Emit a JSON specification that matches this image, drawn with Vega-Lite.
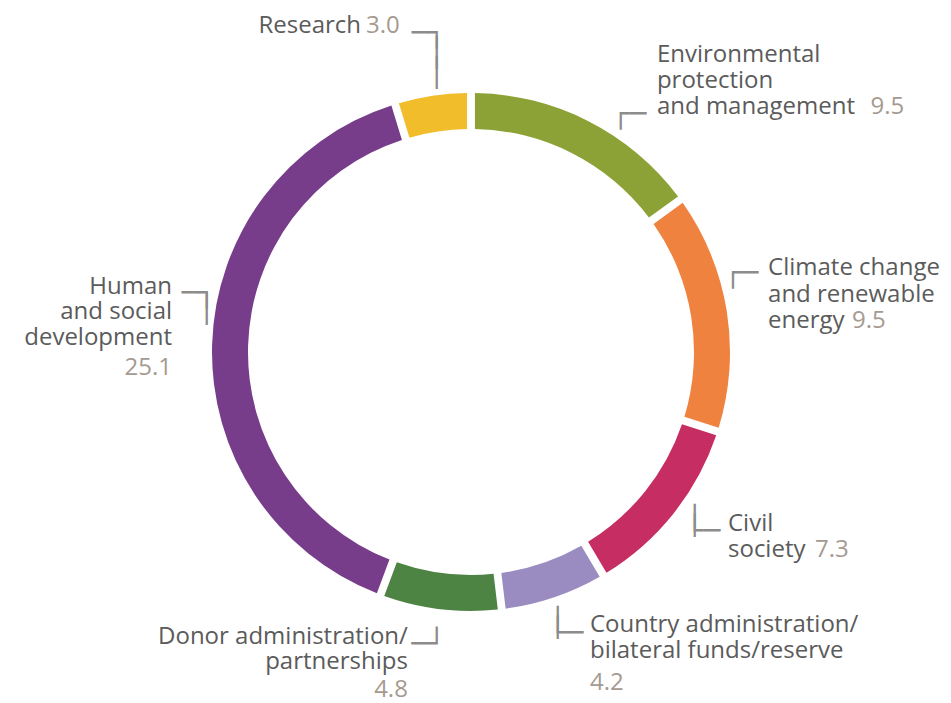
{
  "$schema": "https://vega.github.io/schema/vega-lite/v6.json",
  "width": 942,
  "height": 702,
  "autosize": {"type": "none"},
  "padding": {"left": 0, "top": 1, "right": 9, "bottom": 0},
  "background": "white",
  "view": {"stroke": null},
  "data": {
    "values": [
      {"idx": 1, "category": "Environmental protection and management", "value": 9.5, "label": "Environmental\nprotection\nand management"},
      {"idx": 2, "category": "Climate change and renewable energy", "value": 9.5, "label": "Climate change\nand renewable\nenergy"},
      {"idx": 3, "category": "Civil society", "value": 7.3, "label": "Civil\nsociety"},
      {"idx": 4, "category": "Country administration/bilateral funds/reserve", "value": 4.2, "label": "Country administration/\nbilateral funds/reserve"},
      {"idx": 5, "category": "Donor administration/partnerships", "value": 4.8, "label": "Donor administration/\npartnerships"},
      {"idx": 6, "category": "Human and social development", "value": 25.1, "label": "Human\nand social\ndevelopment"},
      {"idx": 7, "category": "Research", "value": 3.0, "label": "Research"}
    ]
  },
  "encoding": {
    "theta": {"field": "value", "type": "quantitative", "stack": true},
    "order": {"field": "idx", "type": "quantitative"},
    "detail": {"field": "category", "type": "nominal"}
  },
  "layer": [
    {
      "mark": {"type": "arc", "outerRadius": 259, "innerRadius": 223, "padAngle": 0.023},
      "encoding": {
        "color": {
          "field": "category", "type": "nominal", "legend": null,
          "scale": {
            "domain": ["Environmental protection and management", "Climate change and renewable energy", "Civil society", "Country administration/bilateral funds/reserve", "Donor administration/partnerships", "Human and social development", "Research"],
            "range": ["#8DA236", "#F08240", "#C62D62", "#9A8CC0", "#4E8443", "#773D8A", "#F2BD2A"]
          }
        }
      }
    },

    {"mark": {"type": "text", "radius": 290, "align": "left", "baseline": "alphabetic", "dx": 54.4, "dy": -31.6, "font": "Open Sans", "fontSize": 24, "lineHeight": 26, "lineBreak": "\n", "color": "#5b5b5b"},
     "encoding": {"text": {"condition": {"test": "datum.idx === 1", "field": "label", "type": "nominal"}, "value": ""}}},
    {"mark": {"type": "text", "radius": 290, "align": "left", "baseline": "alphabetic", "dx": 10.7, "dy": -31, "font": "Open Sans", "fontSize": 24, "lineHeight": 26.5, "lineBreak": "\n", "color": "#5b5b5b"},
     "encoding": {"text": {"condition": {"test": "datum.idx === 2", "field": "label", "type": "nominal"}, "value": ""}}},
    {"mark": {"type": "text", "radius": 290, "align": "left", "baseline": "alphabetic", "dx": 30.4, "dy": -1.9, "font": "Open Sans", "fontSize": 24, "lineHeight": 26, "lineBreak": "\n", "color": "#5b5b5b"},
     "encoding": {"text": {"condition": {"test": "datum.idx === 3", "field": "label", "type": "nominal"}, "value": ""}}},
    {"mark": {"type": "text", "radius": 290, "align": "left", "baseline": "alphabetic", "dx": 25.8, "dy": 5.4, "font": "Open Sans", "fontSize": 24, "lineHeight": 26, "lineBreak": "\n", "color": "#5b5b5b"},
     "encoding": {"text": {"condition": {"test": "datum.idx === 4", "field": "label", "type": "nominal"}, "value": ""}}},
    {"mark": {"type": "text", "radius": 290, "align": "right", "baseline": "alphabetic", "dx": -28.7, "dy": 4, "font": "Open Sans", "fontSize": 24, "lineHeight": 25, "lineBreak": "\n", "color": "#5b5b5b"},
     "encoding": {"text": {"condition": {"test": "datum.idx === 5", "field": "label", "type": "nominal"}, "value": ""}}},
    {"mark": {"type": "text", "radius": 290, "align": "right", "baseline": "alphabetic", "dx": -9.1, "dy": -49.4, "font": "Open Sans", "fontSize": 24, "lineHeight": 25.5, "lineBreak": "\n", "color": "#5b5b5b"},
     "encoding": {"text": {"condition": {"test": "datum.idx === 6", "field": "label", "type": "nominal"}, "value": ""}}},
    {"mark": {"type": "text", "radius": 290, "align": "right", "baseline": "alphabetic", "dx": -67, "dy": -32, "font": "Open Sans", "fontSize": 24, "lineHeight": 26, "lineBreak": "\n", "color": "#5b5b5b"},
     "encoding": {"text": {"condition": {"test": "datum.idx === 7", "field": "label", "type": "nominal"}, "value": ""}}},

    {"mark": {"type": "text", "radius": 290, "align": "left", "baseline": "alphabetic", "dx": 268, "dy": 20.4, "font": "Open Sans", "fontSize": 24, "color": "#a69a90"},
     "encoding": {"text": {"condition": {"test": "datum.idx === 1", "field": "value", "type": "quantitative", "format": ".1f"}, "value": ""}}},
    {"mark": {"type": "text", "radius": 290, "align": "left", "baseline": "alphabetic", "dx": 94.7, "dy": 22, "font": "Open Sans", "fontSize": 24, "color": "#a69a90"},
     "encoding": {"text": {"condition": {"test": "datum.idx === 2", "field": "value", "type": "quantitative", "format": ".1f"}, "value": ""}}},
    {"mark": {"type": "text", "radius": 290, "align": "left", "baseline": "alphabetic", "dx": 117.4, "dy": 24.1, "font": "Open Sans", "fontSize": 24, "color": "#a69a90"},
     "encoding": {"text": {"condition": {"test": "datum.idx === 3", "field": "value", "type": "quantitative", "format": ".1f"}, "value": ""}}},
    {"mark": {"type": "text", "radius": 290, "align": "left", "baseline": "alphabetic", "dx": 25.8, "dy": 63.4, "font": "Open Sans", "fontSize": 24, "color": "#a69a90"},
     "encoding": {"text": {"condition": {"test": "datum.idx === 4", "field": "value", "type": "quantitative", "format": ".1f"}, "value": ""}}},
    {"mark": {"type": "text", "radius": 290, "align": "right", "baseline": "alphabetic", "dx": -28.7, "dy": 57, "font": "Open Sans", "fontSize": 24, "color": "#a69a90"},
     "encoding": {"text": {"condition": {"test": "datum.idx === 5", "field": "value", "type": "quantitative", "format": ".1f"}, "value": ""}}},
    {"mark": {"type": "text", "radius": 290, "align": "right", "baseline": "alphabetic", "dx": -9.1, "dy": 31.6, "font": "Open Sans", "fontSize": 24, "color": "#a69a90"},
     "encoding": {"text": {"condition": {"test": "datum.idx === 6", "field": "value", "type": "quantitative", "format": ".1f"}, "value": ""}}},
    {"mark": {"type": "text", "radius": 290, "align": "left", "baseline": "alphabetic", "dx": -62, "dy": -32, "font": "Open Sans", "fontSize": 24, "color": "#a69a90"},
     "encoding": {"text": {"condition": {"test": "datum.idx === 7", "field": "value", "type": "quantitative", "format": ".1f"}, "value": ""}}},

    {"mark": {"type": "text", "radius": 290, "align": "left", "baseline": "alphabetic", "dx": 10, "dy": 29.1, "font": "DejaVu Sans", "fontSize": 28, "lineHeight": 20, "lineBreak": "\n", "color": "#8c8c8c"},
     "encoding": {"text": {"condition": {"test": "datum.idx === 1", "value": "┌─"}, "value": ""}}},
    {"mark": {"type": "text", "radius": 290, "align": "left", "baseline": "alphabetic", "dx": -32.7, "dy": -24.4, "font": "DejaVu Sans", "fontSize": 28, "lineHeight": 20, "lineBreak": "\n", "color": "#8c8c8c"},
     "encoding": {"text": {"condition": {"test": "datum.idx === 2", "value": "┌─"}, "value": ""}}},
    {"mark": {"type": "text", "radius": 290, "align": "left", "baseline": "alphabetic", "dx": -11, "dy": -3.2, "font": "DejaVu Sans", "fontSize": 28, "lineHeight": 10, "lineBreak": "\n", "color": "#8c8c8c"},
     "encoding": {"text": {"condition": {"test": "datum.idx === 3", "value": "│\n└─"}, "value": ""}}},
    {"mark": {"type": "text", "radius": 290, "align": "left", "baseline": "alphabetic", "dx": -14.6, "dy": 5.1, "font": "DejaVu Sans", "fontSize": 28, "lineHeight": 10, "lineBreak": "\n", "color": "#8c8c8c"},
     "encoding": {"text": {"condition": {"test": "datum.idx === 4", "value": "│\n└─"}, "value": ""}}},
    {"mark": {"type": "text", "radius": 290, "align": "right", "baseline": "alphabetic", "dx": 8.7, "dy": 12.7, "font": "DejaVu Sans", "fontSize": 28, "lineHeight": 20, "lineBreak": "\n", "color": "#8c8c8c"},
     "encoding": {"text": {"condition": {"test": "datum.idx === 5", "value": "─┘"}, "value": ""}}},
    {"mark": {"type": "text", "radius": 290, "align": "right", "baseline": "alphabetic", "dx": 34.3, "dy": -41.7, "font": "DejaVu Sans", "fontSize": 28, "lineHeight": 16, "lineBreak": "\n", "color": "#8c8c8c"},
     "encoding": {"text": {"condition": {"test": "datum.idx === 6", "value": "─┐\n│"}, "value": ""}}},
    {"mark": {"type": "text", "radius": 290, "align": "right", "baseline": "alphabetic", "dx": 17.3, "dy": -23.5, "font": "DejaVu Sans", "fontSize": 28, "lineHeight": 20, "lineBreak": "\n", "color": "#8c8c8c"},
     "encoding": {"text": {"condition": {"test": "datum.idx === 7", "value": "─┐\n│\n│"}, "value": ""}}}
  ]
}
